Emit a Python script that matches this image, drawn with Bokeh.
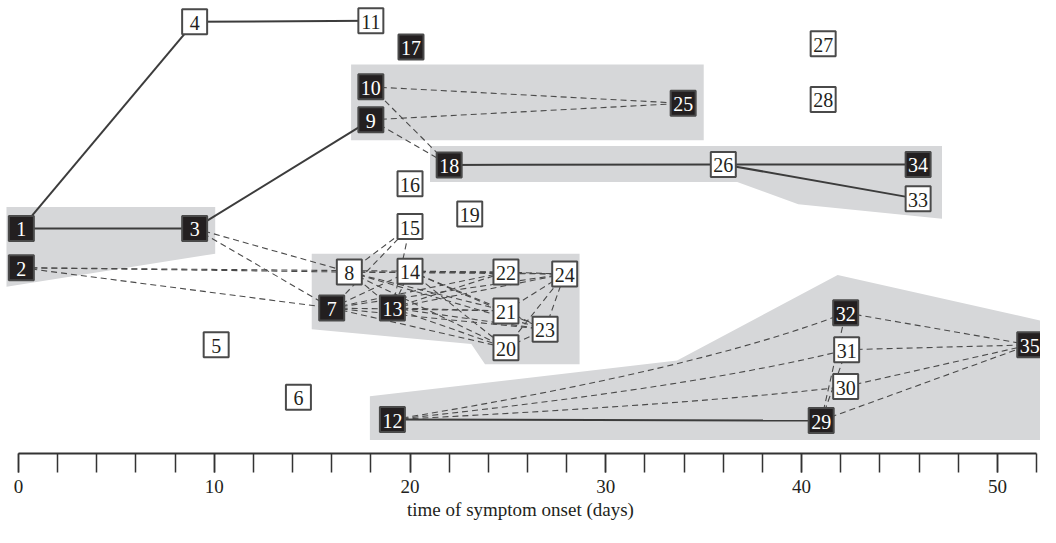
from bokeh.plotting import figure
from bokeh.models import Range1d, FixedTicker, ColumnDataSource
from bokeh.core.properties import value
from bokeh.embed import file_html
from bokeh.resources import INLINE

# ---- data ----
node_id = list(range(1, 36))
node_day = [0.15, 0.15, 9.0, 9.0, 10.1, 14.3, 16.0, 16.9, 18.0, 18.0,
            18.0, 19.1, 19.1, 20.0, 20.0, 20.0, 20.05, 22.0, 23.05, 24.9,
            24.9, 24.9, 26.9, 27.9, 33.95, 36.0, 41.1, 41.1, 41.0, 42.25,
            42.3, 42.25, 45.95, 45.95, 51.65]
node_row = [235, 275.5, 235, 22, 355, 409, 317, 280, 123, 89,
            21, 432, 317, 279, 233, 189, 48, 169.5, 220, 358,
            320, 280, 339, 282, 106, 169, 44.5, 102, 433, 398,
            360, 322, 204.5, 169, 355]
black_nodes = [1, 2, 3, 7, 9, 10, 12, 13, 17, 18, 25, 29, 32, 34, 35]

solid_edges = [(1, 4), (1, 3), (3, 9), (4, 11), (18, 26), (26, 34), (26, 33), (12, 29)]
cluster_src = [7, 8, 13, 14]
cluster_dst = [20, 21, 22, 23, 24]
dashed_edges = [(10, 25), (9, 25), (10, 18), (9, 18),
                (3, 8), (3, 7), (2, 8), (2, 14), (2, 7),
                (8, 15), (7, 15), (13, 15), (8, 13), (14, 7), (14, 13),
                (22, 24), (21, 24), (23, 24), (20, 24), (20, 23), (21, 23),
                (29, 32), (29, 31), (32, 35), (31, 35), (30, 35), (29, 35)]
dashed_edges += [(s, d) for s in cluster_src for d in cluster_dst]
curved_edges = [(12, 32), (12, 31), (12, 30)]

shade_a_x = [-0.61, 10.05, 10.05, -0.61]
shade_a_y = [213, 213, 261, 295]
shade_b_x = [16.99, 35.0, 35.0, 16.99]
shade_b_y = [66, 66, 144, 144]
shade_c_x = [21.02, 47.17, 47.17, 39.83, 36.71, 21.02]
shade_c_y = [150, 150, 225, 210, 187, 187]
shade_d_x = [14.98, 28.66, 28.66, 23.83, 23.13, 14.98]
shade_d_y = [261, 261, 375, 375, 354, 339]
shade_e_x = [17.95, 33.64, 41.84, 53.3, 53.3, 17.95]
shade_e_y = [408, 371, 283, 335, 453, 453]

major_ticks = [0, 10, 20, 30, 40, 50]
minor_ticks = list(range(0, 53, 2))
x_label = "time of symptom onset (days)"

# ---- figure ----
FONT = "Liberation Serif"
p = figure(frame_width=1040, frame_height=453,
           x_range=Range1d(-0.915, 52.20), y_range=Range1d(467, 0),
           output_backend="svg", toolbar_location=None,
           y_axis_location=None, min_border=0,
           outline_line_color=None)
p.grid.visible = False

p.patches([shade_a_x, shade_b_x, shade_c_x, shade_d_x, shade_e_x],
          [shade_a_y, shade_b_y, shade_c_y, shade_d_y, shade_e_y],
          fill_color="#d6d7d9", line_color=None)

pos = {n: (d, r) for n, d, r in zip(node_id, node_day, node_row)}

def seg(edges):
    xs = [[pos[a][0], pos[b][0]] for a, b in edges]
    ys = [[pos[a][1], pos[b][1]] for a, b in edges]
    return xs, ys

xs, ys = seg(dashed_edges)
p.multi_line(xs, ys, line_color="#4a4a4a", line_width=1.1, line_dash="6 4")

cx0 = [pos[a][0] for a, b in curved_edges]
cy0 = [pos[a][1] for a, b in curved_edges]
cx1 = [pos[b][0] for a, b in curved_edges]
cy1 = [pos[b][1] for a, b in curved_edges]
ccx = [x0 + 0.67 * (x1 - x0) for x0, x1 in zip(cx0, cx1)]
ccy = [y0 + 0.46 * (y1 - y0) for y0, y1 in zip(cy0, cy1)]
p.quadratic(x0=cx0, y0=cy0, x1=cx1, y1=cy1, cx=ccx, cy=ccy,
            line_color="#4a4a4a", line_width=1.1, line_dash="6 4")

xs, ys = seg(solid_edges)
p.multi_line(xs, ys, line_color="#3c3c3c", line_width=2)

fill = ["#231f20" if n in black_nodes else "white" for n in node_id]
tcol = ["white" if n in black_nodes else "#231f20" for n in node_id]
src = ColumnDataSource(dict(x=node_day, y=node_row, t=[str(n) for n in node_id],
                            fill=fill, tcol=tcol))
p.rect("x", "y", width=25, height=25, width_units="screen", height_units="screen",
       fill_color="fill", line_color="#4a4a4a", line_width=2, source=src)
p.text("x", "y", text="t", text_align="center", text_baseline="middle",
       text_font=value(FONT), text_font_size="20px", text_color="tcol",
       y_offset=1, source=src)

ax = p.xaxis[0]
ax.ticker = FixedTicker(ticks=major_ticks, minor_ticks=minor_ticks)
ax.bounds = (0, 52)
ax.axis_line_width = 2
ax.axis_line_color = "#333333"
ax.major_tick_in = 0
ax.major_tick_out = 19
ax.minor_tick_in = 0
ax.minor_tick_out = 19
ax.major_tick_line_width = 1.5
ax.minor_tick_line_width = 1.5
ax.major_tick_line_color = "#333333"
ax.minor_tick_line_color = "#333333"
ax.major_label_text_font = FONT
ax.major_label_text_font_size = "19px"
ax.major_label_text_color = "#231f20"
ax.major_label_standoff = 7
ax.axis_label = x_label
ax.axis_label_text_font = FONT
ax.axis_label_text_font_size = "19px"
ax.axis_label_text_font_style = "normal"
ax.axis_label_text_color = "#231f20"
ax.axis_label_standoff = 3

open("out.html", "w").write(file_html(p, INLINE))
